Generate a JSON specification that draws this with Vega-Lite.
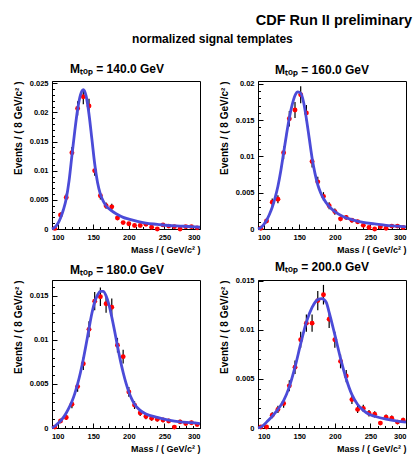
{
  "$schema": "https://vega.github.io/schema/vega-lite/v6.json",
  "background": "white",
  "padding": {"left": 12, "top": 13, "right": 5, "bottom": 2},
  "config": {
    "font": "Liberation Sans",
    "view": {"stroke": "black", "strokeWidth": 1},
    "title": {"font": "Liberation Sans", "fontWeight": "bold", "color": "black"},
    "axis": {
      "labelFont": "Liberation Sans", "labelFontWeight": "bold", "labelFontSize": 7.5, "labelColor": "black",
      "titleFont": "Liberation Sans", "titleFontWeight": "bold", "titleColor": "black",
      "domainColor": "black", "tickColor": "black", "grid": false, "labelOverlap": false
    }
  },
  "title": {"text": "CDF Run II preliminary", "anchor": "end", "fontSize": 14.5, "offset": 4},
  "datasets": {
    "pts": [
      {"m":140,"x":96,"y":0.0001,"e":0.0001},{"m":140,"x":104,"y":0.0024,"e":0.00042},{"m":140,"x":112,"y":0.0054,"e":0.00063},{"m":140,"x":120,"y":0.0131,"e":0.00098},{"m":140,"x":128,"y":0.0207,"e":0.00124},{"m":140,"x":136,"y":0.0227,"e":0.0013},{"m":140,"x":144,"y":0.0211,"e":0.00125},{"m":140,"x":152,"y":0.0100,"e":0.00086},{"m":140,"x":160,"y":0.0057,"e":0.00065},{"m":140,"x":168,"y":0.0040,"e":0.00054},{"m":140,"x":176,"y":0.0038,"e":0.00053},{"m":140,"x":184,"y":0.0019,"e":0.00037},{"m":140,"x":192,"y":0.0011,"e":0.00029},{"m":140,"x":200,"y":0.0009,"e":0.00026},{"m":140,"x":208,"y":0.0006,"e":0.00021},{"m":140,"x":216,"y":0.0006,"e":0.00021},{"m":140,"x":224,"y":0.0008,"e":0.00024},{"m":140,"x":232,"y":0.0003,"e":0.00015},{"m":140,"x":240,"y":0.0000,"e":0.0001},{"m":140,"x":248,"y":0.0007,"e":0.00023},{"m":140,"x":256,"y":0.0005,"e":0.00019},{"m":140,"x":264,"y":0.0004,"e":0.00017},{"m":140,"x":272,"y":0.0000,"e":0.0001},{"m":140,"x":280,"y":0.0004,"e":0.00017},{"m":140,"x":288,"y":0.0004,"e":0.00017},{"m":140,"x":296,"y":0.0002,"e":0.00012},
      {"m":160,"x":96,"y":0.0001,"e":0.0001},{"m":160,"x":104,"y":0.0011,"e":0.00029},{"m":160,"x":112,"y":0.0037,"e":0.00052},{"m":160,"x":120,"y":0.0041,"e":0.00055},{"m":160,"x":128,"y":0.0105,"e":0.00088},{"m":160,"x":136,"y":0.0152,"e":0.00106},{"m":160,"x":144,"y":0.0164,"e":0.0011},{"m":160,"x":152,"y":0.0185,"e":0.00117},{"m":160,"x":160,"y":0.0160,"e":0.00109},{"m":160,"x":168,"y":0.0093,"e":0.00083},{"m":160,"x":176,"y":0.0065,"e":0.00069},{"m":160,"x":184,"y":0.0045,"e":0.00058},{"m":160,"x":192,"y":0.0032,"e":0.00049},{"m":160,"x":200,"y":0.0024,"e":0.00042},{"m":160,"x":208,"y":0.0014,"e":0.00032},{"m":160,"x":216,"y":0.0016,"e":0.00034},{"m":160,"x":224,"y":0.0012,"e":0.0003},{"m":160,"x":232,"y":0.0010,"e":0.00027},{"m":160,"x":240,"y":0.0005,"e":0.00019},{"m":160,"x":248,"y":0.0002,"e":0.00012},{"m":160,"x":256,"y":0.0000,"e":0.0001},{"m":160,"x":264,"y":0.0003,"e":0.00015},{"m":160,"x":272,"y":0.0001,"e":0.0001},{"m":160,"x":280,"y":0.0004,"e":0.00017},{"m":160,"x":288,"y":0.0004,"e":0.00017},{"m":160,"x":296,"y":0.0002,"e":0.00012},
      {"m":180,"x":96,"y":0.0001,"e":0.0001},{"m":180,"x":104,"y":0.0008,"e":0.00024},{"m":180,"x":112,"y":0.0012,"e":0.0003},{"m":180,"x":120,"y":0.0027,"e":0.00045},{"m":180,"x":128,"y":0.0047,"e":0.00059},{"m":180,"x":136,"y":0.0073,"e":0.00073},{"m":180,"x":144,"y":0.0112,"e":0.00091},{"m":180,"x":152,"y":0.0144,"e":0.00103},{"m":180,"x":160,"y":0.0149,"e":0.00105},{"m":180,"x":168,"y":0.0141,"e":0.00102},{"m":180,"x":176,"y":0.0137,"e":0.001},{"m":180,"x":184,"y":0.0094,"e":0.00083},{"m":180,"x":192,"y":0.0081,"e":0.00077},{"m":180,"x":200,"y":0.0041,"e":0.00055},{"m":180,"x":208,"y":0.0026,"e":0.00044},{"m":180,"x":216,"y":0.0017,"e":0.00035},{"m":180,"x":224,"y":0.0013,"e":0.00031},{"m":180,"x":232,"y":0.0011,"e":0.00029},{"m":180,"x":240,"y":0.0010,"e":0.00027},{"m":180,"x":248,"y":0.0009,"e":0.00026},{"m":180,"x":256,"y":0.0008,"e":0.00024},{"m":180,"x":264,"y":0.0001,"e":0.0001},{"m":180,"x":272,"y":0.0007,"e":0.00023},{"m":180,"x":280,"y":0.0005,"e":0.00019},{"m":180,"x":288,"y":0.0006,"e":0.00021},{"m":180,"x":296,"y":0.0004,"e":0.00017},
      {"m":200,"x":96,"y":0.0001,"e":0.0001},{"m":200,"x":104,"y":0.0001,"e":0.0001},{"m":200,"x":112,"y":0.0013,"e":0.00031},{"m":200,"x":120,"y":0.0019,"e":0.00037},{"m":200,"x":128,"y":0.0025,"e":0.00043},{"m":200,"x":136,"y":0.0043,"e":0.00056},{"m":200,"x":144,"y":0.0062,"e":0.00068},{"m":200,"x":152,"y":0.0090,"e":0.00082},{"m":200,"x":160,"y":0.0107,"e":0.00089},{"m":200,"x":168,"y":0.0107,"e":0.00089},{"m":200,"x":176,"y":0.0130,"e":0.00098},{"m":200,"x":184,"y":0.0136,"e":0.001},{"m":200,"x":192,"y":0.0111,"e":0.00091},{"m":200,"x":200,"y":0.0090,"e":0.00082},{"m":200,"x":208,"y":0.0068,"e":0.00071},{"m":200,"x":216,"y":0.0053,"e":0.00063},{"m":200,"x":224,"y":0.0029,"e":0.00046},{"m":200,"x":232,"y":0.0019,"e":0.00037},{"m":200,"x":240,"y":0.0020,"e":0.00038},{"m":200,"x":248,"y":0.0015,"e":0.00033},{"m":200,"x":256,"y":0.0014,"e":0.00032},{"m":200,"x":264,"y":0.0005,"e":0.00019},{"m":200,"x":272,"y":0.0011,"e":0.00029},{"m":200,"x":280,"y":0.0010,"e":0.00027},{"m":200,"x":288,"y":0.0006,"e":0.00021},{"m":200,"x":296,"y":0.0008,"e":0.00024}
    ],
    "fit": [
      {"m":140,"x":92,"y":0.0000},{"m":140,"x":96,"y":0.0003},{"m":140,"x":100,"y":0.0009},{"m":140,"x":104,"y":0.0019},{"m":140,"x":108,"y":0.0033},{"m":140,"x":112,"y":0.0052},{"m":140,"x":116,"y":0.0083},{"m":140,"x":120,"y":0.0126},{"m":140,"x":124,"y":0.0168},{"m":140,"x":128,"y":0.0205},{"m":140,"x":132,"y":0.0230},{"m":140,"x":136,"y":0.0239},{"m":140,"x":140,"y":0.0228},{"m":140,"x":144,"y":0.0197},{"m":140,"x":148,"y":0.0155},{"m":140,"x":152,"y":0.0112},{"m":140,"x":156,"y":0.0080},{"m":140,"x":160,"y":0.0060},{"m":140,"x":164,"y":0.0048},{"m":140,"x":168,"y":0.0040},{"m":140,"x":176,"y":0.0031},{"m":140,"x":184,"y":0.0025},{"m":140,"x":192,"y":0.0020},{"m":140,"x":200,"y":0.0017},{"m":140,"x":212,"y":0.0013},{"m":140,"x":224,"y":0.0010},{"m":140,"x":240,"y":0.0008},{"m":140,"x":256,"y":0.0006},{"m":140,"x":272,"y":0.0005},{"m":140,"x":288,"y":0.0004},{"m":140,"x":300,"y":0.0003},
      {"m":160,"x":92,"y":0.0000},{"m":160,"x":96,"y":0.0002},{"m":160,"x":100,"y":0.0006},{"m":160,"x":104,"y":0.0012},{"m":160,"x":108,"y":0.0020},{"m":160,"x":112,"y":0.0030},{"m":160,"x":116,"y":0.0043},{"m":160,"x":120,"y":0.0059},{"m":160,"x":124,"y":0.0080},{"m":160,"x":128,"y":0.0105},{"m":160,"x":132,"y":0.0130},{"m":160,"x":136,"y":0.0153},{"m":160,"x":140,"y":0.0171},{"m":160,"x":144,"y":0.0184},{"m":160,"x":148,"y":0.0189},{"m":160,"x":152,"y":0.0187},{"m":160,"x":156,"y":0.0175},{"m":160,"x":160,"y":0.0152},{"m":160,"x":164,"y":0.0125},{"m":160,"x":168,"y":0.0098},{"m":160,"x":172,"y":0.0077},{"m":160,"x":176,"y":0.0061},{"m":160,"x":180,"y":0.0050},{"m":160,"x":184,"y":0.0042},{"m":160,"x":192,"y":0.0031},{"m":160,"x":200,"y":0.0024},{"m":160,"x":212,"y":0.0017},{"m":160,"x":224,"y":0.0013},{"m":160,"x":240,"y":0.0009},{"m":160,"x":256,"y":0.0007},{"m":160,"x":272,"y":0.0005},{"m":160,"x":288,"y":0.0004},{"m":160,"x":300,"y":0.0003},
      {"m":180,"x":92,"y":0.0000},{"m":180,"x":96,"y":0.0002},{"m":180,"x":100,"y":0.0005},{"m":180,"x":104,"y":0.0008},{"m":180,"x":108,"y":0.0012},{"m":180,"x":112,"y":0.0017},{"m":180,"x":116,"y":0.0023},{"m":180,"x":120,"y":0.0030},{"m":180,"x":124,"y":0.0039},{"m":180,"x":128,"y":0.0050},{"m":180,"x":132,"y":0.0063},{"m":180,"x":136,"y":0.0078},{"m":180,"x":140,"y":0.0095},{"m":180,"x":144,"y":0.0113},{"m":180,"x":148,"y":0.0130},{"m":180,"x":152,"y":0.0143},{"m":180,"x":156,"y":0.0151},{"m":180,"x":160,"y":0.0155},{"m":180,"x":164,"y":0.0155},{"m":180,"x":168,"y":0.0150},{"m":180,"x":172,"y":0.0140},{"m":180,"x":176,"y":0.0126},{"m":180,"x":180,"y":0.0110},{"m":180,"x":184,"y":0.0093},{"m":180,"x":188,"y":0.0077},{"m":180,"x":192,"y":0.0063},{"m":180,"x":196,"y":0.0051},{"m":180,"x":200,"y":0.0041},{"m":180,"x":204,"y":0.0033},{"m":180,"x":208,"y":0.0027},{"m":180,"x":216,"y":0.0020},{"m":180,"x":224,"y":0.0016},{"m":180,"x":240,"y":0.0012},{"m":180,"x":256,"y":0.0009},{"m":180,"x":272,"y":0.0007},{"m":180,"x":288,"y":0.0006},{"m":180,"x":300,"y":0.0005},
      {"m":200,"x":92,"y":0.0000},{"m":200,"x":96,"y":0.0001},{"m":200,"x":100,"y":0.0003},{"m":200,"x":104,"y":0.0006},{"m":200,"x":112,"y":0.0012},{"m":200,"x":120,"y":0.0019},{"m":200,"x":128,"y":0.0028},{"m":200,"x":136,"y":0.0042},{"m":200,"x":144,"y":0.0062},{"m":200,"x":152,"y":0.0086},{"m":200,"x":160,"y":0.0108},{"m":200,"x":168,"y":0.0123},{"m":200,"x":176,"y":0.0131},{"m":200,"x":182,"y":0.0132},{"m":200,"x":188,"y":0.0128},{"m":200,"x":192,"y":0.0118},{"m":200,"x":200,"y":0.0095},{"m":200,"x":208,"y":0.0071},{"m":200,"x":216,"y":0.0050},{"m":200,"x":224,"y":0.0034},{"m":200,"x":232,"y":0.0024},{"m":200,"x":240,"y":0.0018},{"m":200,"x":248,"y":0.0014},{"m":200,"x":256,"y":0.0012},{"m":200,"x":272,"y":0.0009},{"m":200,"x":288,"y":0.0007},{"m":200,"x":300,"y":0.0006}
    ]
  },
  "vconcat": [
    {
      "title": {"text": "normalized signal templates", "anchor": "middle", "fontSize": 12, "offset": 17},
      "columns": 2,
      "spacing": {"column": 11, "row": 5},
      "concat": [
        {
          "title": {"text": "Mₜₒₚ = 140.0 GeV", "fontSize": 12, "frame": "group", "dx": -9, "offset": 3},
          "width": 148, "height": 148,
          "encoding": {
            "x": {"field": "x", "type": "quantitative", "scale": {"domain": [92, 300], "nice": false, "zero": false},
              "axis": {"title": "Mass / ( GeV/c² )", "titleAnchor": "end", "titleFontSize": 9, "titlePadding": 2,
                "values": [100,110,120,130,140,150,160,170,180,190,200,210,220,230,240,250,260,270,280,290,300],
                "labelExpr": "datum.value % 50 == 0 ? datum.value : ''", "labelPadding": 9,
                "tickSize": {"condition": {"test": "datum.value % 50 == 0", "value": -5}, "value": -2.5}}},
            "y": {"field": "y", "type": "quantitative", "scale": {"domain": [0, 0.0254], "nice": false},
              "axis": {"title": "Events / ( 8 GeV/c² )", "titleAnchor": "end", "titleFontSize": 10, "titlePadding": 6,
                "values": [0,0.001,0.002,0.003,0.004,0.005,0.006,0.007,0.008,0.009,0.01,0.011,0.012,0.013,0.014,0.015,0.016,0.017,0.018,0.019,0.02,0.021,0.022,0.023,0.024,0.025],
                "labelExpr": "abs(datum.value*200 - round(datum.value*200)) < 0.001 ? format(datum.value, '~g') : ''", "labelPadding": 9,
                "tickSize": {"condition": {"test": "abs(datum.value*200 - round(datum.value*200)) < 0.001", "value": -5}, "value": -2.5}}}
          },
          "layer": [
            {"data": {"name": "pts"}, "transform": [{"filter": "datum.m == 140"}], "mark": {"type": "errorbar", "color": "black", "thickness": 1.2}, "encoding": {"yError": {"field": "e"}}},
            {"data": {"name": "pts"}, "transform": [{"filter": "datum.m == 140"}], "mark": {"type": "circle", "color": "#ff0000", "size": 24, "opacity": 1}},
            {"data": {"name": "fit"}, "transform": [{"filter": "datum.m == 140"}], "mark": {"type": "line", "color": "#4b4bd8", "strokeWidth": 2.8, "interpolate": "monotone"}}
          ]
        },
        {
          "title": {"text": "Mₜₒₚ = 160.0 GeV", "fontSize": 12, "frame": "group", "dx": -10, "offset": 3},
          "width": 148, "height": 148,
          "encoding": {
            "x": {"field": "x", "type": "quantitative", "scale": {"domain": [92, 300], "nice": false, "zero": false},
              "axis": {"title": "Mass / ( GeV/c² )", "titleAnchor": "end", "titleFontSize": 9, "titlePadding": 2,
                "values": [100,110,120,130,140,150,160,170,180,190,200,210,220,230,240,250,260,270,280,290,300],
                "labelExpr": "datum.value % 50 == 0 ? datum.value : ''", "labelPadding": 9,
                "tickSize": {"condition": {"test": "datum.value % 50 == 0", "value": -5}, "value": -2.5}}},
            "y": {"field": "y", "type": "quantitative", "scale": {"domain": [0, 0.0204], "nice": false},
              "axis": {"title": "Events / ( 8 GeV/c² )", "titleAnchor": "end", "titleFontSize": 10, "titlePadding": 6,
                "values": [0,0.001,0.002,0.003,0.004,0.005,0.006,0.007,0.008,0.009,0.01,0.011,0.012,0.013,0.014,0.015,0.016,0.017,0.018,0.019,0.02],
                "labelExpr": "abs(datum.value*200 - round(datum.value*200)) < 0.001 ? format(datum.value, '~g') : ''", "labelPadding": 9,
                "tickSize": {"condition": {"test": "abs(datum.value*200 - round(datum.value*200)) < 0.001", "value": -5}, "value": -2.5}}}
          },
          "layer": [
            {"data": {"name": "pts"}, "transform": [{"filter": "datum.m == 160"}], "mark": {"type": "errorbar", "color": "black", "thickness": 1.2}, "encoding": {"yError": {"field": "e"}}},
            {"data": {"name": "pts"}, "transform": [{"filter": "datum.m == 160"}], "mark": {"type": "circle", "color": "#ff0000", "size": 24, "opacity": 1}},
            {"data": {"name": "fit"}, "transform": [{"filter": "datum.m == 160"}], "mark": {"type": "line", "color": "#4b4bd8", "strokeWidth": 2.8, "interpolate": "monotone"}}
          ]
        },
        {
          "title": {"text": "Mₜₒₚ = 180.0 GeV", "fontSize": 12, "frame": "group", "dx": -9, "offset": 3},
          "width": 148, "height": 148,
          "encoding": {
            "x": {"field": "x", "type": "quantitative", "scale": {"domain": [92, 300], "nice": false, "zero": false},
              "axis": {"title": "Mass / ( GeV/c² )", "titleAnchor": "end", "titleFontSize": 9, "titlePadding": 2,
                "values": [100,110,120,130,140,150,160,170,180,190,200,210,220,230,240,250,260,270,280,290,300],
                "labelExpr": "datum.value % 50 == 0 ? datum.value : ''", "labelPadding": 9,
                "tickSize": {"condition": {"test": "datum.value % 50 == 0", "value": -5}, "value": -2.5}}},
            "y": {"field": "y", "type": "quantitative", "scale": {"domain": [0, 0.0168], "nice": false},
              "axis": {"title": "Events / ( 8 GeV/c² )", "titleAnchor": "end", "titleFontSize": 10, "titlePadding": 6,
                "values": [0,0.001,0.002,0.003,0.004,0.005,0.006,0.007,0.008,0.009,0.01,0.011,0.012,0.013,0.014,0.015,0.016],
                "labelExpr": "abs(datum.value*200 - round(datum.value*200)) < 0.001 ? format(datum.value, '~g') : ''", "labelPadding": 9,
                "tickSize": {"condition": {"test": "abs(datum.value*200 - round(datum.value*200)) < 0.001", "value": -5}, "value": -2.5}}}
          },
          "layer": [
            {"data": {"name": "pts"}, "transform": [{"filter": "datum.m == 180"}], "mark": {"type": "errorbar", "color": "black", "thickness": 1.2}, "encoding": {"yError": {"field": "e"}}},
            {"data": {"name": "pts"}, "transform": [{"filter": "datum.m == 180"}], "mark": {"type": "circle", "color": "#ff0000", "size": 24, "opacity": 1}},
            {"data": {"name": "fit"}, "transform": [{"filter": "datum.m == 180"}], "mark": {"type": "line", "color": "#4b4bd8", "strokeWidth": 2.8, "interpolate": "monotone"}}
          ]
        },
        {
          "title": {"text": "Mₜₒₚ = 200.0 GeV", "fontSize": 12, "frame": "group", "dx": -10, "offset": 3},
          "width": 148, "height": 148,
          "encoding": {
            "x": {"field": "x", "type": "quantitative", "scale": {"domain": [92, 300], "nice": false, "zero": false},
              "axis": {"title": "Mass / ( GeV/c² )", "titleAnchor": "end", "titleFontSize": 9, "titlePadding": 2,
                "values": [100,110,120,130,140,150,160,170,180,190,200,210,220,230,240,250,260,270,280,290,300],
                "labelExpr": "datum.value % 50 == 0 ? datum.value : ''", "labelPadding": 9,
                "tickSize": {"condition": {"test": "datum.value % 50 == 0", "value": -5}, "value": -2.5}}},
            "y": {"field": "y", "type": "quantitative", "scale": {"domain": [0, 0.0151], "nice": false},
              "axis": {"title": "Events / ( 8 GeV/c² )", "titleAnchor": "end", "titleFontSize": 10, "titlePadding": 6,
                "values": [0,0.001,0.002,0.003,0.004,0.005,0.006,0.007,0.008,0.009,0.01,0.011,0.012,0.013,0.014,0.015],
                "labelExpr": "abs(datum.value*200 - round(datum.value*200)) < 0.001 ? format(datum.value, '~g') : ''", "labelPadding": 9,
                "tickSize": {"condition": {"test": "abs(datum.value*200 - round(datum.value*200)) < 0.001", "value": -5}, "value": -2.5}}}
          },
          "layer": [
            {"data": {"name": "pts"}, "transform": [{"filter": "datum.m == 200"}], "mark": {"type": "errorbar", "color": "black", "thickness": 1.2}, "encoding": {"yError": {"field": "e"}}},
            {"data": {"name": "pts"}, "transform": [{"filter": "datum.m == 200"}], "mark": {"type": "circle", "color": "#ff0000", "size": 24, "opacity": 1}},
            {"data": {"name": "fit"}, "transform": [{"filter": "datum.m == 200"}], "mark": {"type": "line", "color": "#4b4bd8", "strokeWidth": 2.8, "interpolate": "monotone"}}
          ]
        }
      ]
    }
  ]
}
